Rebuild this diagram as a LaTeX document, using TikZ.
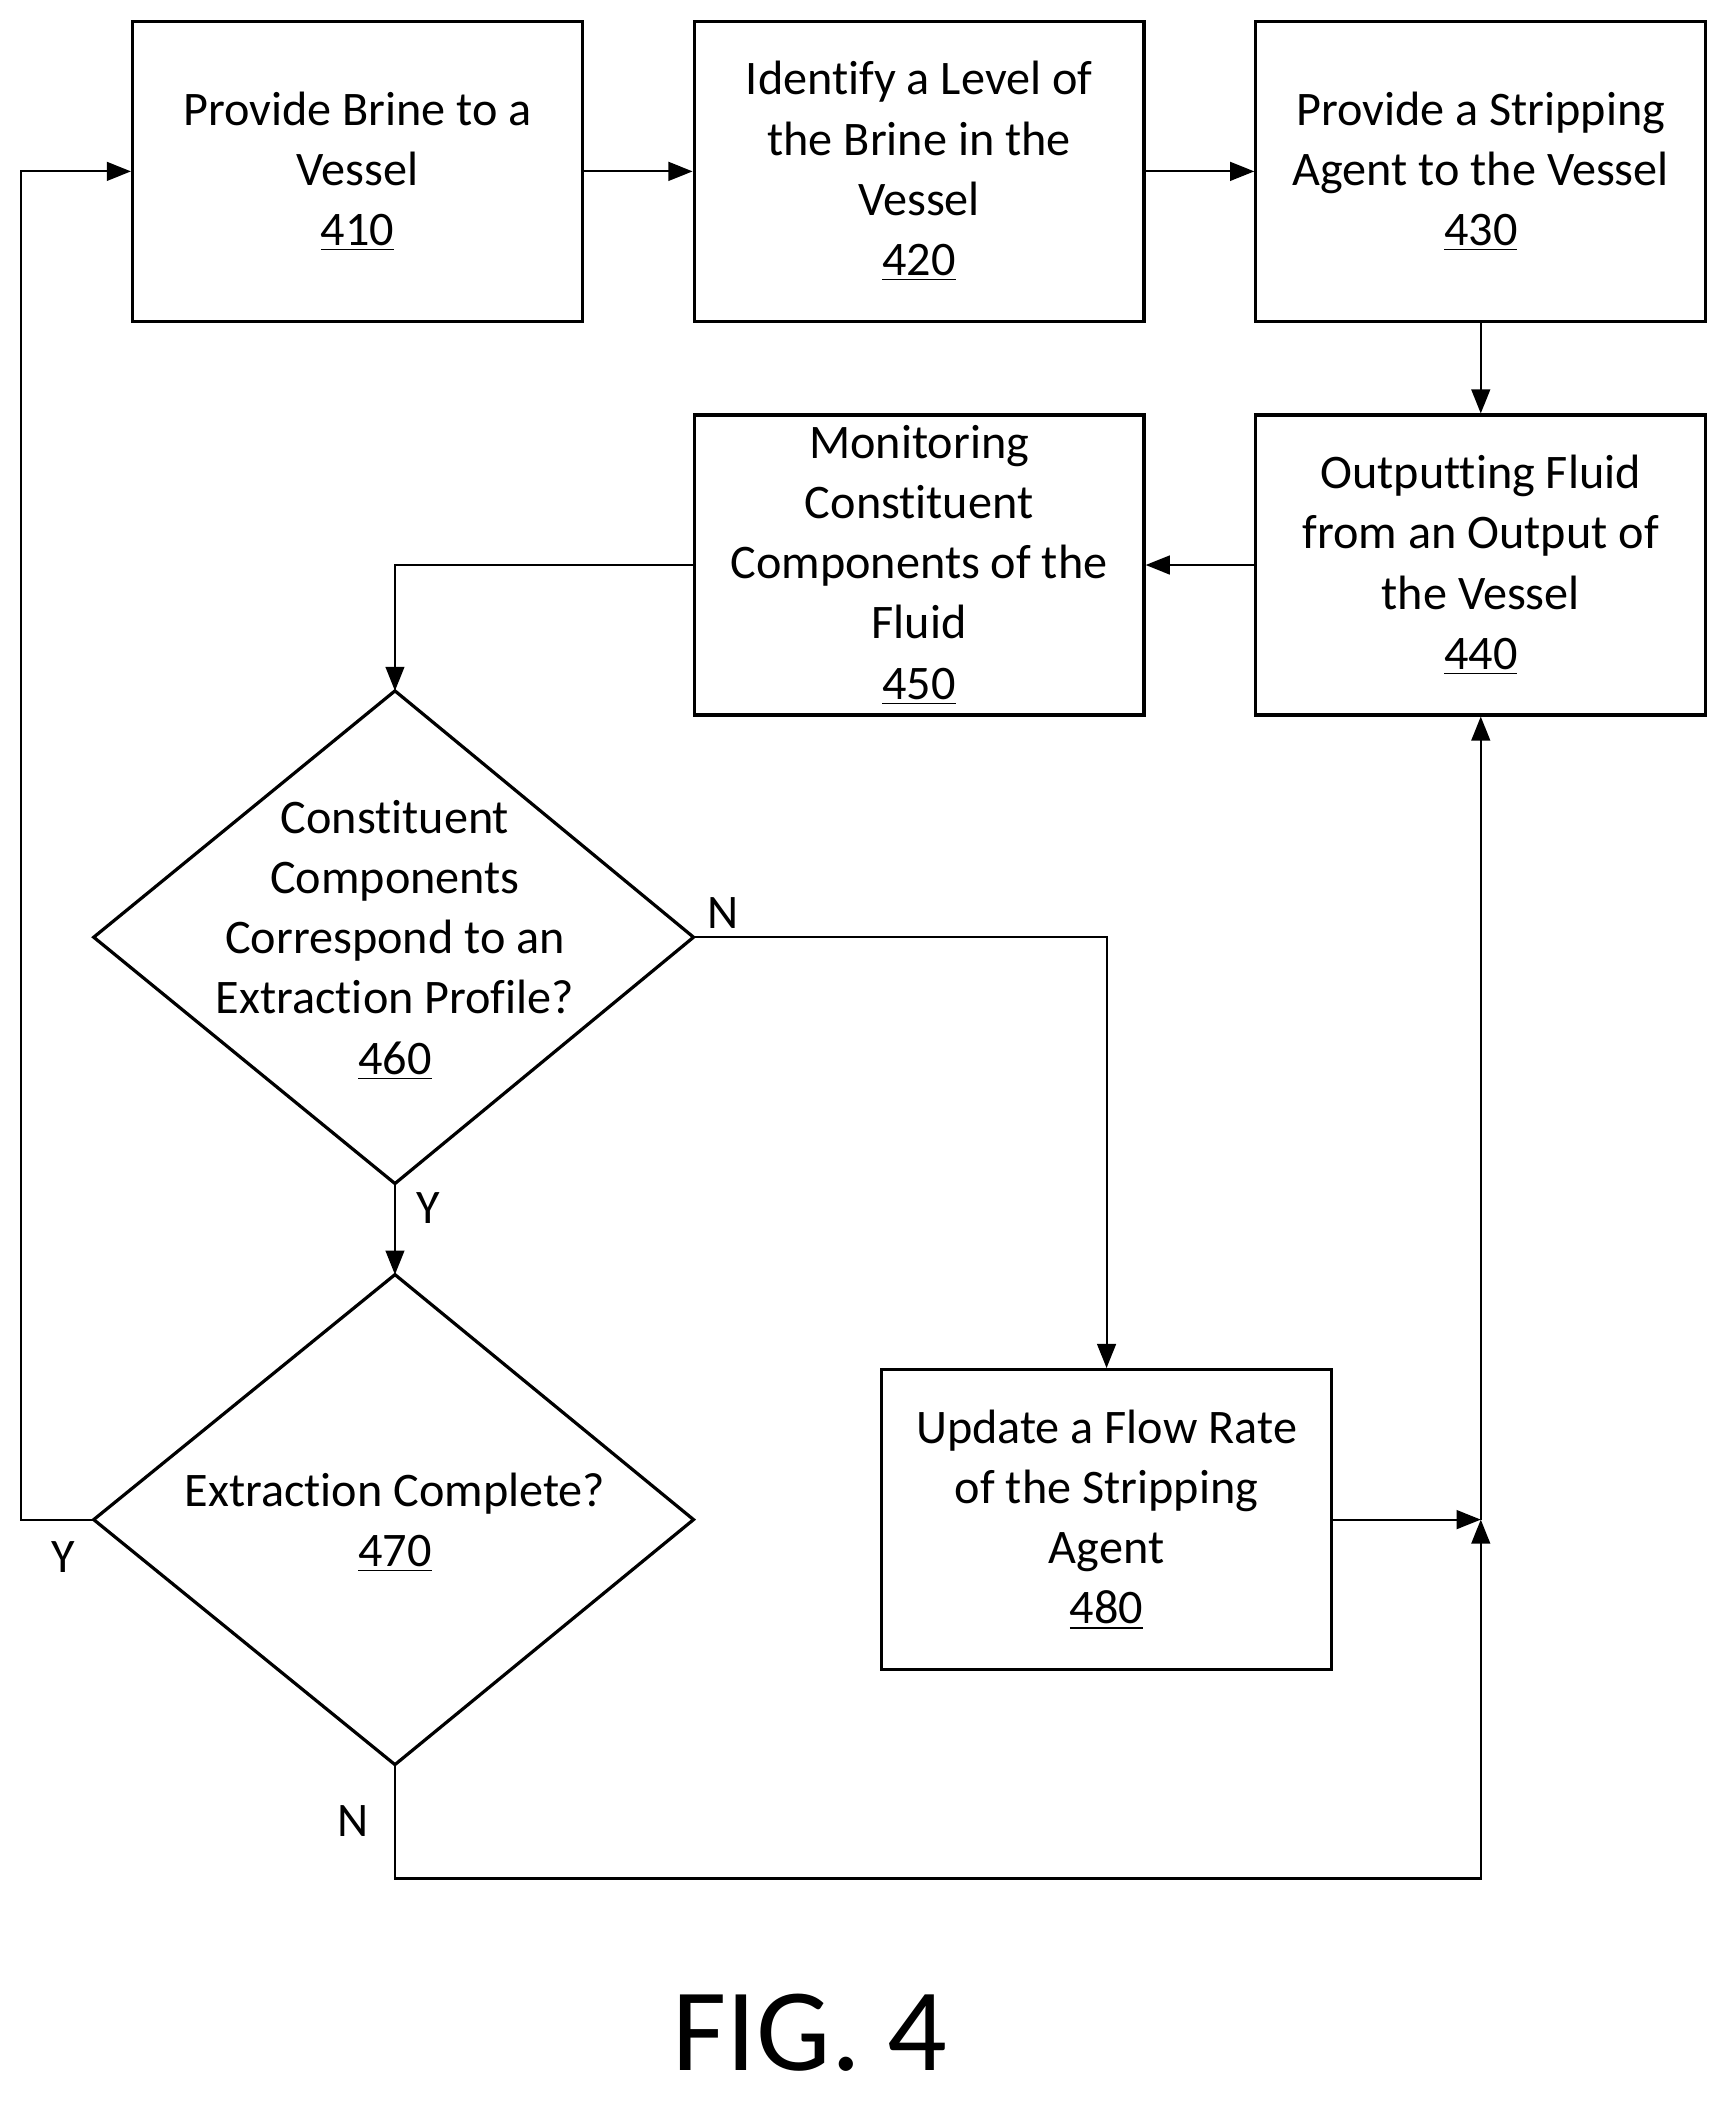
\documentclass[tikz,border=0pt]{standalone}
\usepackage{fontspec}
\setmainfont{Carlito}[Ligatures=NoCommon]
\usetikzlibrary{shapes.geometric,arrows.meta}
\begin{document}
\begin{tikzpicture}[x=0.5pt,y=-0.5pt,
  box/.style={draw,line width=1.2pt,minimum width=168pt,minimum height=112pt,align=center,inner sep=0pt},
  txt/.style={font=\fontsize{18}{22.5}\selectfont,align=center},
  arr/.style={-{Triangle[length=9pt,width=7pt]},line width=0.8pt},
  ln/.style={line width=0.8pt}]
\useasboundingbox (0,0) rectangle (1292,1570);
\node[box,txt] (n410) at (267,128) {Provide Brine to a\\Vessel\\\underline{410}};
\node[box,txt] (n420) at (686.5,128) {Identify a Level of\\the Brine in the\\Vessel\\\underline{420}};
\node[box,txt] (n430) at (1106,128) {Provide a Stripping\\Agent to the Vessel\\\underline{430}};
\node[box,txt] (n440) at (1106,422) {Outputting Fluid\\from an Output of\\the Vessel\\\underline{440}};
\node[box,txt] (n450) at (686.5,422) {Monitoring\\Constituent\\Components of the\\Fluid\\\underline{450}};
\node[box,txt] (n480) at (826.5,1135) {Update a Flow Rate\\of the Stripping\\Agent\\\underline{480}};
\draw[line width=1.2pt] (70,700) coordinate(d1l) -- (295,516) coordinate(d1t) -- (518,700) coordinate(d1r) -- (295,884) coordinate(d1b) -- cycle;
\node[txt] (n460) at (295,702) {Constituent\\Components\\Correspond to an\\Extraction Profile?\\\underline{460}};
\draw[line width=1.2pt] (70,1135) coordinate(d2l) -- (295,952) coordinate(d2t) -- (518,1135) coordinate(d2r) -- (295,1318) coordinate(d2b) -- cycle;
\node[txt] (n470) at (295,1137) {Extraction Complete?\\\underline{470}};
\coordinate (j) at (1106,1135);
\draw[arr] (n410) -- (n420);
\draw[arr] (n420) -- (n430);
\draw[arr] (n430) -- (n440);
\draw[arr] (n440) -- (n450);
\draw[arr] (n450.west) -| (d1t);
\draw[arr] (d1r) -| (n480.north);
\draw[arr] (d1b) -- (d2t);
\draw[arr] (d2l) -- (16,1135) |- (n410.west);
\draw[arr] (d2b) |- (1106,1403) -- (j);
\draw[arr] (n480.east) -- (j);
\draw[arr] (j) -- (n440.south);
\node[txt] (lN1) at (540,682) {N};
\node[txt] (lY1) at (320,902) {Y};
\node[txt] (lY2) at (47,1163) {Y};
\node[txt] (lN2) at (264,1360) {N};
\node[font=\fontsize{44}{48}\selectfont] (fig) at (605,1518) {FIG. 4};
\end{tikzpicture}
\end{document}
